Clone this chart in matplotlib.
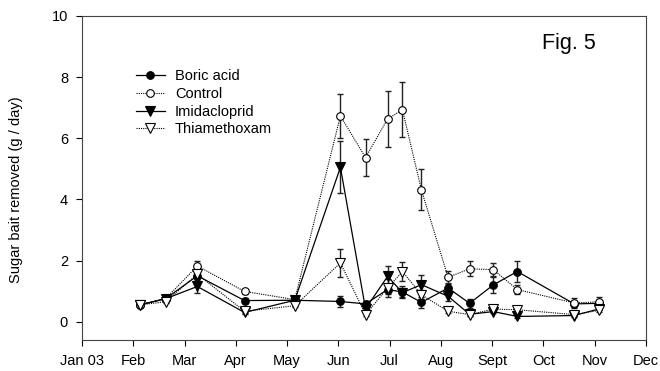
import matplotlib
matplotlib.use("Agg")
import matplotlib.pyplot as plt
import numpy as np

plt.rcParams['font.family'] = ['Liberation Sans', 'DejaVu Sans']

# sampling dates as months since Jan 1 (0 = Jan 03, 11 = Dec)
months = [1.13, 1.63, 2.25, 3.17, 4.15, 5.04, 5.53, 5.96, 6.25, 6.62,
          7.14, 7.56, 8.02, 8.49, 9.60, 10.09]

boric = [0.55, 0.75, 1.50, 0.69, 0.70, 0.66, 0.58, 1.05, 0.97, 0.63,
         1.10, 0.60, 1.20, 1.64, 0.58, 0.60]
boric_err = [0.05, 0.05, 0.10, 0.08, 0.05, 0.18, 0.10, 0.15, 0.20, 0.17,
             0.15, 0.14, 0.27, 0.33, 0.08, 0.08]

control = [0.55, 0.75, 1.82, 0.99, 0.72, 6.73, 5.37, 6.63, 6.93, 4.31,
           1.45, 1.73, 1.70, 1.05, 0.61, 0.65]
control_err = [0.05, 0.05, 0.17, 0.08, 0.05, 0.72, 0.60, 0.90, 0.90, 0.67,
               0.22, 0.25, 0.22, 0.15, 0.15, 0.15]

imid = [0.55, 0.75, 1.15, 0.30, 0.70, 5.05, 0.42, 1.48, 0.95, 1.21,
        0.83, 0.24, 0.33, 0.17, 0.20, 0.42]
imid_err = [0.05, 0.05, 0.20, 0.05, 0.05, 0.85, 0.10, 0.35, 0.15, 0.30,
            0.15, 0.05, 0.05, 0.05, 0.05, 0.05]

thiam = [0.55, 0.65, 1.55, 0.34, 0.52, 1.92, 0.23, 1.10, 1.64, 0.88,
         0.34, 0.23, 0.41, 0.39, 0.23, 0.37]
thiam_err = [0.05, 0.05, 0.10, 0.05, 0.05, 0.45, 0.05, 0.30, 0.30, 0.15,
             0.05, 0.05, 0.05, 0.05, 0.05, 0.05]

month_labels = ['Jan 03', 'Feb', 'Mar', 'Apr', 'May', 'Jun', 'Jul', 'Aug',
                'Sept', 'Oct', 'Nov', 'Dec']

fig = plt.figure(figsize=(6.6, 3.71), dpi=100)
ax = fig.add_axes([0.1242, 0.0836, 0.8546, 0.8733])

dot = (0, (1, 1))
series = [
    ('Boric acid', boric, boric_err, 'o', 'black', '-'),
    ('Control', control, control_err, 'o', 'white', dot),
    ('Imidacloprid', imid, imid_err, 'v', 'black', '-'),
    ('Thiamethoxam', thiam, thiam_err, 'v', 'white', dot),
]
for label, vals, err, mk, face, ls in series:
    ax.errorbar(months, vals, yerr=err, fmt='none', ecolor='#222222',
                elinewidth=1, capsize=2.5, capthick=1, zorder=2)
    ax.plot(months, vals, linestyle=ls, color='black', lw=0.9 if ls == '-' else 0.8,
            marker=mk, markersize=5.5 if mk == 'o' else 6.5,
            markerfacecolor=face, markeredgecolor='black', markeredgewidth=0.8,
            label=label, zorder=3)

ax.set_xlim(0, 11)
ax.set_ylim(-0.6, 10)
ax.set_xticks(np.arange(12))
ax.set_xticklabels(month_labels)
ax.set_yticks([0, 2, 4, 6, 8, 10])
ax.tick_params(direction='out', length=4, width=0.8, labelsize=10.5, pad=6)
for s in ax.spines.values():
    s.set_linewidth(0.8)
    s.set_color('#444444')
ax.set_ylabel('Sugar bait removed (g / day)', fontsize=10.5)
ax.yaxis.set_label_coords(-0.105, 0.463)

ax.text(0.8635, 0.915, 'Fig. 5', transform=ax.transAxes, fontsize=15.5,
        ha='center', va='center')

ax.legend(loc='upper left', bbox_to_anchor=(0.095, 0.835), frameon=False,
          fontsize=10.5, handlelength=2.0, handletextpad=0.7, labelspacing=0.25,
          borderpad=0, borderaxespad=0)

fig.savefig('out.png', dpi=100)
